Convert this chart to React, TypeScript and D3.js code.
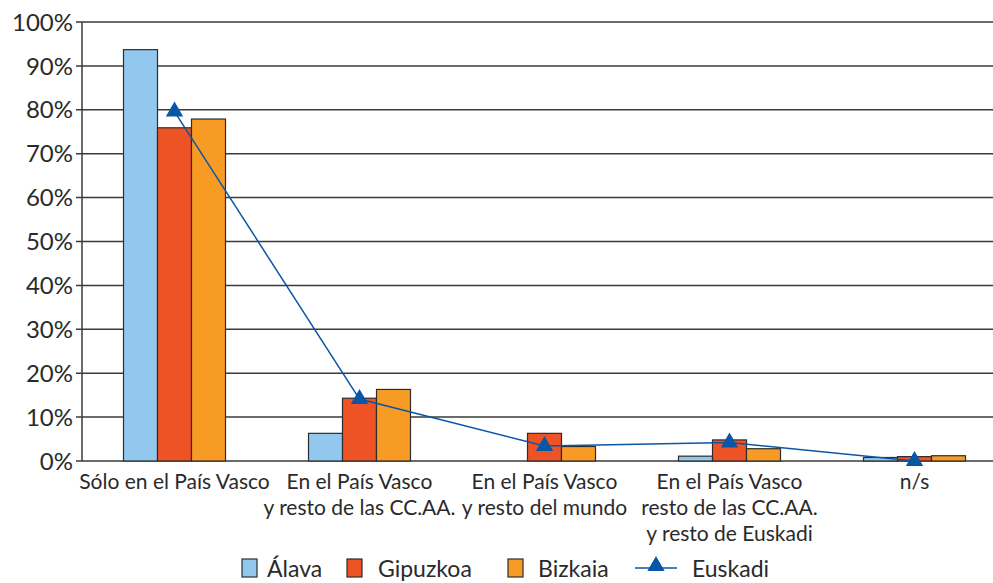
import React from "react";
import * as d3 from "d3";

const categories: string[][] = [
  ["Sólo en el País Vasco"],
  ["En el País Vasco", "y resto de las CC.AA."],
  ["En el País Vasco", "y resto del mundo"],
  ["En el País Vasco", "resto de las CC.AA.", "y resto de Euskadi"],
  ["n/s"],
];
const seriesNames = ["Álava", "Gipuzkoa", "Bizkaia"];
const alava = [93.7, 6.3, 0, 1.1, 0.8];
const gipuzkoa = [75.9, 14.3, 6.3, 4.8, 1.0];
const bizkaia = [77.9, 16.3, 3.3, 2.8, 1.2];
const euskadi = [79.6, 14.1, 3.4, 4.2, 0];
const yTicks = [0, 10, 20, 30, 40, 50, 60, 70, 80, 90, 100];

const colors = ["#93c8ee", "#ee5325", "#f89b25"];
const lineColor = "#0a56a6";
const textColor = "#2a2a2a";
const font = "Lato, 'Open Sans', sans-serif";

export default function App() {
  const W = 993, H = 583;
  const x0 = 82, x1 = 1007;
  const x = d3.scaleBand<number>().domain(d3.range(categories.length)).range([x0, x1]);
  const y = d3.scaleLinear().domain([0, 100]).range([461, 22]);
  const barW = 34;
  const series = [alava, gipuzkoa, bizkaia];
  const cx = (i: number) => (x(i) as number) + x.bandwidth() / 2;
  const line = d3.line<number>().x((_, i) => cx(i)).y((d) => y(d));
  const tri = d3.symbol().type(d3.symbolTriangle).size(130);

  return (
    <svg width={W} height={H} style={{ position: "absolute", left: 0, top: 0, background: "#fff" }}>
      {yTicks.map((t) => (
        <g key={t}>
          <line x1={76} x2={W} y1={y(t)} y2={y(t)} stroke="#3a3a3a" strokeWidth={1.5} />
          <text x={73} y={y(t)} dy="0.36em" textAnchor="end" fontFamily={font} fontSize={24} fill={textColor}>
            {t}%
          </text>
        </g>
      ))}
      <line x1={x0} x2={x0} y1={y(100)} y2={y(0)} stroke="#3a3a3a" strokeWidth={1.5} />
      {series.map((s, si) =>
        s.map((v, i) =>
          v > 0 ? (
            <rect
              key={`${si}-${i}`}
              x={cx(i) - 1.5 * barW + si * barW}
              y={y(v)}
              width={barW}
              height={y(0) - y(v)}
              fill={colors[si]}
              stroke="#2d2d2d"
              strokeWidth={1.2}
            />
          ) : null
        )
      )}
      <path d={line(euskadi) || ""} fill="none" stroke={lineColor} strokeWidth={1.5} />
      {euskadi.map((v, i) => (
        <path key={i} d={tri() || ""} transform={`translate(${cx(i)},${y(v)})`} fill={lineColor} />
      ))}
      {categories.map((lines, i) => (
        <text key={i} textAnchor="middle" fontFamily={font} fontSize={21} fill={textColor}>
          {lines.map((l, j) => (
            <tspan key={j} x={cx(i)} y={489 + j * 26}>
              {l}
            </tspan>
          ))}
        </text>
      ))}
      {seriesNames.map((n, i) => {
        const bx = [242, 347, 508][i];
        const tx = [267, 378, 538][i];
        return (
          <g key={n}>
            <rect x={bx} y={559} width={15} height={18} fill={colors[i]} stroke="#2d2d2d" strokeWidth={1.2} />
            <text x={tx} y={577} fontFamily={font} fontSize={23} fill={textColor}>
              {n}
            </text>
          </g>
        );
      })}
      <line x1={635} x2={677} y1={568} y2={568} stroke={lineColor} strokeWidth={1.5} />
      <path d={tri() || ""} transform="translate(656,566)" fill={lineColor} />
      <text x={692} y={577} fontFamily={font} fontSize={23} fill={textColor}>
        Euskadi
      </text>
    </svg>
  );
}
